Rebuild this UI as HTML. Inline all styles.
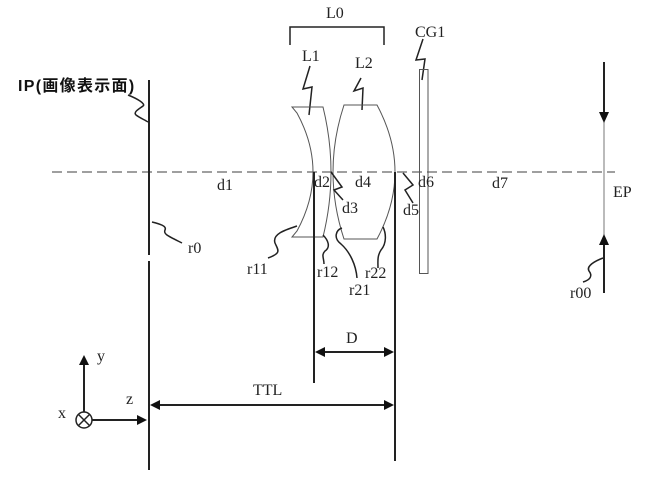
<!DOCTYPE html>
<html><head><meta charset="utf-8"><style>
html,body{margin:0;padding:0;background:#fff;}
svg{display:block;}
text{font-family:"Liberation Serif",serif;font-size:16px;fill:#222;}
</style></head><body>
<svg width="650" height="489" viewBox="0 0 650 489" xmlns="http://www.w3.org/2000/svg">
<rect width="650" height="489" fill="#fff"/>
<!-- optical axis -->
<line x1="52" y1="172" x2="615" y2="172" stroke="#666" stroke-width="1.2" stroke-dasharray="10,5"/>
<!-- IP line -->
<line x1="149" y1="80" x2="149" y2="255" stroke="#222" stroke-width="2"/>
<line x1="149" y1="261" x2="149" y2="470" stroke="#222" stroke-width="2"/>
<text x="18" y="91" style="font-family:'Liberation Sans','Noto Sans CJK JP',sans-serif;font-weight:bold;font-size:16px;letter-spacing:1.3px;fill:#111">IP(画像表示面)</text>
<path d="M128,95 C138,99 146,104 143,106 C139,109 133,112 136,115 C140,118 145,120 148,122" fill="none" stroke="#222" stroke-width="1.5"/>
<!-- r0 -->
<path d="M152,222 C160,224 167,226 165,230 C163,234 168,236 182,243" fill="none" stroke="#222" stroke-width="1.5"/>
<text x="188" y="253">r0</text>
<!-- L0 bracket -->
<path d="M290,45 L290,27 L384,27 L384,45" fill="none" stroke="#222" stroke-width="1.5"/>
<text x="326" y="18">L0</text>
<!-- L1 -->
<text x="302" y="61">L1</text>
<path d="M310,66 L303,89 L312,87 L309,115" fill="none" stroke="#222" stroke-width="1.5"/>
<path d="M292,107 L323,107 Q339,172 323,237 L292,237 L297,231 Q329,172 297,113 Z" fill="none" stroke="#555" stroke-width="1"/>
<!-- L2 -->
<text x="355" y="68">L2</text>
<path d="M361,78 L354,91 L363,88 L362,110" fill="none" stroke="#222" stroke-width="1.5"/>
<path d="M344,105 L377,105 Q413,172 377,239 L344,239 Q322,172 344,105 Z" fill="none" stroke="#555" stroke-width="1"/>
<!-- CG1 -->
<text x="415" y="37">CG1</text>
<path d="M423,39 L416,60 L425,59 L422,80" fill="none" stroke="#222" stroke-width="1.5"/>
<rect x="419.5" y="69.5" width="8.5" height="204" fill="none" stroke="#555" stroke-width="1"/>
<!-- vertical reference lines -->
<line x1="314" y1="172" x2="314" y2="383" stroke="#222" stroke-width="2"/>
<line x1="395" y1="172" x2="395" y2="461" stroke="#222" stroke-width="2"/>
<!-- d labels -->
<text x="217" y="190">d1</text>
<text x="314" y="187">d2</text>
<text x="355" y="187">d4</text>
<text x="342" y="213">d3</text>
<path d="M331,172 L342,187 L334,190 L343,200" fill="none" stroke="#222" stroke-width="1.5"/>
<text x="418" y="187">d6</text>
<text x="403" y="215">d5</text>
<path d="M403,173 L413,185 L405,190 L413,203" fill="none" stroke="#222" stroke-width="1.5"/>
<text x="492" y="188">d7</text>
<!-- r leaders -->
<path d="M297,226 C285,230 272,234 275,243 C278,250 282,253 268,258" fill="none" stroke="#222" stroke-width="1.5"/>
<text x="247" y="274">r11</text>
<path d="M323,235 C328,240 331,247 325,251 C321,255 324,258 324,264" fill="none" stroke="#222" stroke-width="1.5"/>
<text x="317" y="277">r12</text>
<path d="M342,228 C336,230 333,238 341,244 C350,252 356,265 357,278" fill="none" stroke="#222" stroke-width="1.5"/>
<text x="349" y="295">r21</text>
<path d="M383,227 C386,233 387,243 381,250 C377,256 378,262 378,268" fill="none" stroke="#222" stroke-width="1.5"/>
<text x="365" y="278">r22</text>
<!-- EP -->
<line x1="604" y1="62" x2="604" y2="115" stroke="#222" stroke-width="2"/>
<line x1="604" y1="115" x2="604" y2="240" stroke="#777" stroke-width="1"/>
<line x1="604" y1="240" x2="604" y2="293" stroke="#222" stroke-width="2"/>
<polygon points="599,112 609,112 604,123" fill="#111"/>
<polygon points="599,245 609,245 604,234" fill="#111"/>
<text x="613" y="197">EP</text>
<path d="M603,258 C595,261 586,266 589,271 C593,276 590,280 583,282" fill="none" stroke="#222" stroke-width="1.5"/>
<text x="570" y="298">r00</text>
<!-- D dimension -->
<line x1="318" y1="352" x2="391" y2="352" stroke="#222" stroke-width="2"/>
<polygon points="315,352 325,347 325,357" fill="#111"/>
<polygon points="394,352 384,347 384,357" fill="#111"/>
<text x="346" y="343">D</text>
<!-- TTL dimension -->
<line x1="152" y1="405" x2="391" y2="405" stroke="#222" stroke-width="2"/>
<polygon points="150,405 160,400 160,410" fill="#111"/>
<polygon points="394,405 384,400 384,410" fill="#111"/>
<text x="253" y="395">TTL</text>
<!-- axes -->
<line x1="84" y1="412" x2="84" y2="362" stroke="#222" stroke-width="2"/>
<polygon points="84,355 79,365 89,365" fill="#111"/>
<text x="97" y="361">y</text>
<circle cx="84" cy="420" r="8" fill="none" stroke="#222" stroke-width="1.5"/>
<line x1="78.5" y1="414.5" x2="89.5" y2="425.5" stroke="#222" stroke-width="1.5"/>
<line x1="89.5" y1="414.5" x2="78.5" y2="425.5" stroke="#222" stroke-width="1.5"/>
<line x1="92" y1="420" x2="140" y2="420" stroke="#222" stroke-width="2"/>
<polygon points="147,420 137,415 137,425" fill="#111"/>
<text x="58" y="418">x</text>
<text x="126" y="404">z</text>
</svg>
</body></html>
